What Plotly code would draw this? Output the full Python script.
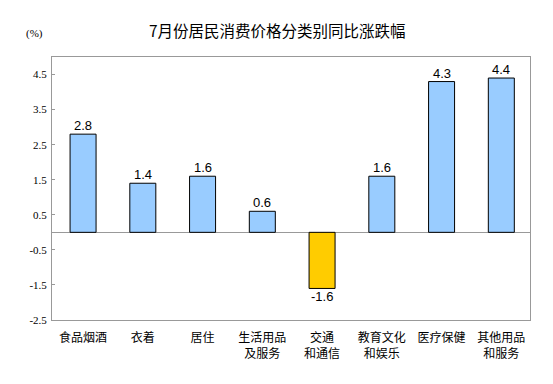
import plotly.graph_objects as go

categories = ["食品烟酒", "衣着", "居住", "生活用品<br>及服务", "交通<br>和通信", "教育文化<br>和娱乐", "医疗保健", "其他用品<br>和服务"]
values = [2.8, 1.4, 1.6, 0.6, -1.6, 1.6, 4.3, 4.4]
tick_vals = [4.5, 3.5, 2.5, 1.5, 0.5, -0.5, -1.5, -2.5]
tick_text = ["4.5", "3.5", "2.5", "1.5", "0.5", "-0.5", "-1.5", "-2.5"]
title_text = "7月份居民消费价格分类别同比涨跌幅"
unit_text = "(%)"

colors = ["#FFCC00" if v < 0 else "#99CCFF" for v in values]
xs = list(range(len(categories)))

# page has an 8px body margin; figure is drawn at (8, 8)
OFF = 8
W, H = 553 - OFF, 384 - OFF
l, r, t, b = 44, 23, 49, 64
pw, ph = W - l - r, H - t - b

def px_to_paper(px, py):
    return (px - OFF - l) / pw, 1 - (py - OFF - t) / ph

tx, ty = px_to_paper(277, 30)
ux, uy = px_to_paper(34, 33)

fig = go.Figure()
fig.add_trace(go.Bar(
    x=xs, y=values, width=0.435,
    marker=dict(color=colors, line=dict(color="black", width=1)),
    cliponaxis=False,
))

anns = [
    dict(text=title_text, x=tx, y=ty, xref="paper", yref="paper", showarrow=False,
         xanchor="center", yanchor="middle",
         font=dict(family="Noto Sans CJK SC", size=15.5, color="black")),
    dict(text=unit_text, x=ux, y=uy, xref="paper", yref="paper", showarrow=False,
         xanchor="center", yanchor="middle",
         font=dict(family="Liberation Serif", size=11, color="black")),
]
for xi, v in zip(xs, values):
    anns.append(dict(
        text=f"{v:.1f}", x=xi, y=v, xref="x", yref="y", showarrow=False,
        xanchor="center", yanchor="bottom" if v >= 0 else "top",
        yshift=0, borderpad=0,
        font=dict(family="Liberation Sans, Arial", size=13, color="black"),
    ))

fig.update_layout(
    width=W, height=H,
    margin=dict(l=l, r=r, t=t, b=b),
    paper_bgcolor="white", plot_bgcolor="white",
    showlegend=False,
    xaxis=dict(
        range=[-0.52, 7.48], tickmode="array", tickvals=xs, ticktext=categories,
        showgrid=False, zeroline=False, showline=True, mirror=True,
        linecolor="#999999", linewidth=1, ticks="", ticklabelstandoff=7,
        tickfont=dict(family="Noto Sans CJK SC", size=12, color="black"),
    ),
    yaxis=dict(
        range=[-2.5, 5], tickmode="array", tickvals=tick_vals, ticktext=tick_text,
        showgrid=False, zeroline=True, zerolinecolor="#999999", zerolinewidth=1,
        showline=True, mirror=True, linecolor="#999999", linewidth=1,
        ticks="inside", ticklen=3, tickcolor="#999999", ticklabelstandoff=2,
        tickfont=dict(family="Liberation Serif, Times New Roman", size=11, color="black"),
    ),
    annotations=anns,
)
fig.write_html("out.html")
